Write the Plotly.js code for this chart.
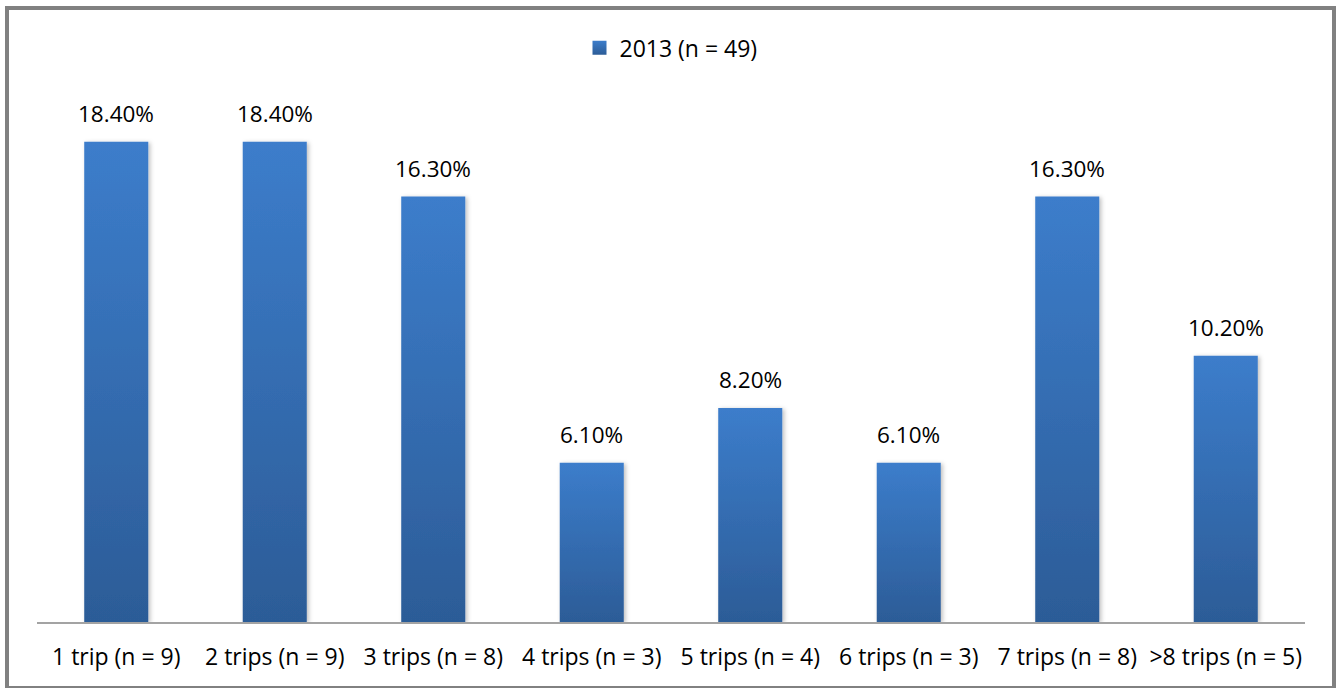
<!DOCTYPE html>
<html>
<head>
<meta charset="utf-8">
<script src="https://cdn.plot.ly/plotly-3.0.1.min.js"></script>
<style>
  html, body { margin: 0; padding: 0; background: #ffffff; }
  #wrap { position: relative; width: 1338px; height: 688px; overflow: hidden; }
  #chart { position: absolute; left: 0; top: 0; width: 1338px; height: 688px; }
  #frame {
    position: absolute; left: 5px; top: 6px; width: 1331px; height: 684px;
    box-sizing: border-box; border: 4px solid #818181; pointer-events: none;
  }
</style>
</head>
<body>
<div id="wrap">
  <div id="chart"></div>
  <div id="frame"></div>
</div>
<script>
// Share of respondents by number of trips taken
const categories = [
  '1 trip (n = 9)', '2 trips (n = 9)', '3 trips (n = 8)', '4 trips (n = 3)',
  '5 trips (n = 4)', '6 trips (n = 3)', '7 trips (n = 8)', '>8 trips (n = 5)'
];
const shares2013 = [18.4, 18.4, 16.3, 6.1, 8.2, 6.1, 16.3, 10.2];
const seriesName = '2013 (n = 49)';

const FONT = 'Open Sans, Liberation Sans, sans-serif';

const trace = {
  type: 'bar',
  x: categories,
  y: shares2013,
  name: seriesName,
  showlegend: true,
  marker: { color: '#3670b8', line: { width: 0 } },
  hoverinfo: 'x+y'
};

const valueLabels = categories.map((c, i) => ({
  x: c,
  y: shares2013[i],
  xref: 'x',
  yref: 'y',
  text: shares2013[i].toFixed(2) + '%',
  showarrow: false,
  yanchor: 'bottom',
  yshift: 11,
  font: { family: FONT, size: 22.5, color: '#000000' }
}));

const layout = {
  width: 1338,
  height: 688,
  margin: { l: 37, r: 33, t: 100, b: 66 },
  paper_bgcolor: '#ffffff',
  plot_bgcolor: '#ffffff',
  bargap: 0.596,
  font: { family: FONT, size: 23, color: '#000000' },
  showlegend: true,
  legend: {
    orientation: 'h',
    x: 0.5, xanchor: 'center',
    y: 1.1, yanchor: 'middle',
    font: { family: FONT, size: 23, color: '#000000' },
    itemwidth: 30,
    itemclick: false
  },
  xaxis: {
    type: 'category',
    showline: true,
    linecolor: '#a3a3a3',
    linewidth: 2,
    ticks: '',
    showgrid: false,
    zeroline: false,
    ticklabelstandoff: 13,
    tickfont: { family: FONT, size: 23, color: '#000000' }
  },
  yaxis: {
    range: [0, 20],
    visible: false,
    showgrid: false,
    zeroline: false
  },
  annotations: valueLabels
};

// Vertical gradient + soft shadow for the bars and the legend swatch
function decorate(gd) {
  const svg = gd.querySelector('.main-svg');
  if (!svg) return;
  const NS = 'http://www.w3.org/2000/svg';
  if (!svg.querySelector('#barGrad')) {
    let defs = svg.querySelector('defs');
    if (!defs) { defs = document.createElementNS(NS, 'defs'); svg.insertBefore(defs, svg.firstChild); }
    const grad = document.createElementNS(NS, 'linearGradient');
    grad.setAttribute('id', 'barGrad');
    grad.setAttribute('x1', '0'); grad.setAttribute('y1', '0');
    grad.setAttribute('x2', '0'); grad.setAttribute('y2', '1');
    [['0', '#3c7dcb'], ['1', '#2c5c97']].forEach(([o, c]) => {
      const s = document.createElementNS(NS, 'stop');
      s.setAttribute('offset', o); s.setAttribute('stop-color', c);
      grad.appendChild(s);
    });
    defs.appendChild(grad);
    const filt = document.createElementNS(NS, 'filter');
    filt.setAttribute('id', 'barShadow');
    filt.setAttribute('x', '-20%'); filt.setAttribute('y', '-5%');
    filt.setAttribute('width', '140%'); filt.setAttribute('height', '110%');
    const ds = document.createElementNS(NS, 'feDropShadow');
    ds.setAttribute('dx', '2'); ds.setAttribute('dy', '1');
    ds.setAttribute('stdDeviation', '2');
    ds.setAttribute('flood-color', '#000000');
    ds.setAttribute('flood-opacity', '0.25');
    filt.appendChild(ds);
    defs.appendChild(filt);
  }
  gd.querySelectorAll('.bars .point path').forEach(p => {
    p.style.fill = 'url(#barGrad)';
    p.setAttribute('filter', 'url(#barShadow)');
  });
  // larger legend swatch
  gd.querySelectorAll('.legendpoints path').forEach(p => {
    p.setAttribute('d', 'M7,7H-7V-7H7Z');
    p.style.fill = 'url(#barGrad)';
  });
}

const gd = document.getElementById('chart');
Plotly.newPlot(gd, [trace], layout, { displayModeBar: false, staticPlot: true }).then(() => {
  decorate(gd);
  gd.on('plotly_afterplot', () => decorate(gd));
});
</script>
</body>
</html>
